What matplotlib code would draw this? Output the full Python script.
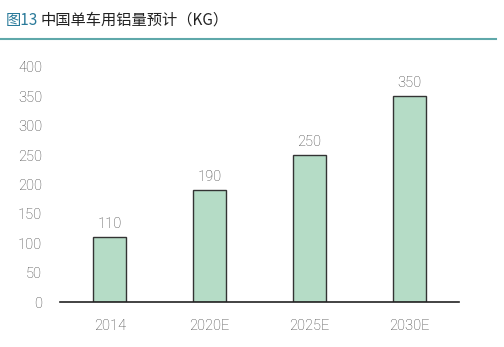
import matplotlib.pyplot as plt
import matplotlib.lines as mlines

plt.rcParams['font.family'] = ['Noto Sans CJK SC', 'DejaVu Sans']

years = ["2014", "2020E", "2025E", "2030E"]
aluminium_kg = [110, 190, 250, 350]
y_ticks = [0, 50, 100, 150, 200, 250, 300, 350, 400]

BAR_COLOR = "#b5dcc6"
EDGE_COLOR = "#333333"
TEXT_GRAY = "#404040"
NUM_FONT = ["Roboto", "DejaVu Sans"]

fig = plt.figure(figsize=(5.04, 3.47), dpi=100)
ax = fig.add_axes([60 / 504, (347 - 302) / 347, 399 / 504, 235 / 347])

x = range(len(years))
ax.bar(x, aluminium_kg, width=0.33, color=BAR_COLOR, edgecolor=EDGE_COLOR, linewidth=1.0, zorder=2)
for xi, v in zip(x, aluminium_kg):
    ax.text(xi, v + 11, str(v), ha="center", va="bottom", fontsize=10.5, color=TEXT_GRAY,
            family=NUM_FONT, fontweight="light")

ax.set_xlim(-0.5, 3.5)
ax.set_ylim(0, 400)
ax.set_yticks(y_ticks)
ax.set_xticks(list(x))
ax.set_xticklabels(years)
ax.tick_params(length=0, labelsize=10.5, labelcolor=TEXT_GRAY)
ax.tick_params(axis="y", pad=13)
ax.tick_params(axis="x", pad=12)
for lab in ax.get_xticklabels() + ax.get_yticklabels():
    lab.set_family(NUM_FONT)
    lab.set_fontweight("light")

for side in ["left", "right", "top"]:
    ax.spines[side].set_visible(False)
ax.spines["bottom"].set_color("#222222")
ax.spines["bottom"].set_linewidth(1.2)

# title and rule
fig.text(6 / 504, 1 - 20 / 347, "图13", color="#2a7a9a", fontsize=11, va="center", ha="left")
fig.text(41 / 504, 1 - 20 / 347, "中国单车用铝量预计（KG）", color="#222222", fontsize=11, va="center", ha="left")
fig.add_artist(mlines.Line2D([0, 496 / 504], [1 - 38.5 / 347] * 2, color="#5fa8aa", linewidth=1.5,
                             transform=fig.transFigure))

fig.savefig("out.png", dpi=100)
